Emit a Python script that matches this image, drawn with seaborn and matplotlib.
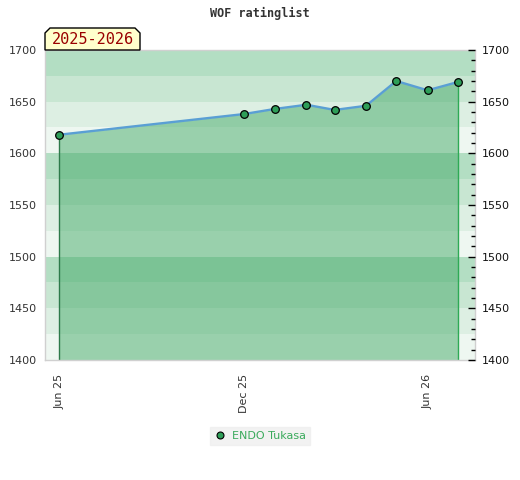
import matplotlib
matplotlib.use("Agg")
import matplotlib.pyplot as plt
import matplotlib.dates as mdates
from matplotlib.patches import Polygon
from matplotlib.lines import Line2D
import seaborn as sns
import pandas as pd
import numpy as np

# ---- data ----
dates = ["2025-06-01", "2025-12-01", "2026-01-01", "2026-02-01", "2026-03-01",
         "2026-04-01", "2026-05-01", "2026-06-01", "2026-07-01"]
ratings = [1618, 1638, 1643, 1647, 1642, 1646, 1670, 1661, 1669]
player = "ENDO Tukasa"
title = "WOF ratinglist"
season_label = "2025-2026"
tick_dates = ["2025-06-01", "2025-12-01", "2026-06-01"]
y_ticks = [1400, 1450, 1500, 1550, 1600, 1650, 1700]

df = pd.DataFrame({"date": pd.to_datetime(dates), "rating": ratings, "player": player})

sns.set_style("white")
plt.rcParams["font.family"] = ["DejaVu Sans"]

fig = plt.figure(figsize=(5.2, 4.8), dpi=100)
ax = fig.add_axes([45/520, 1-360/480, 430/520, 310/480])

ymin, ymax = 1400, 1700
xmin, xmax = pd.Timestamp("2025-05-18"), pd.Timestamp("2026-07-18")

# background bands (25 rating units each)
band_cols = ["#b3dec3", "#c8e6d2", "#ddefe3", "#eef7f1"]
for i, lo in enumerate(range(1700, 1400, -25)):
    ax.axhspan(lo - 25, lo, color=band_cols[i % 4], lw=0, zorder=0)

# area fill
ax.fill_between(df["date"], df["rating"], ymin, color="#45aa69", alpha=0.5, lw=0, zorder=1)
ax.vlines(df["date"].iloc[0], ymin, df["rating"].iloc[0], color="#2d7a4a", lw=1, zorder=2)
ax.vlines(df["date"].iloc[-1], ymin, df["rating"].iloc[-1], color="#2eaa55", lw=1, zorder=2)

sns.lineplot(data=df, x="date", y="rating", ax=ax, color="#5a9fd4", lw=1.7,
             marker="o", markersize=5.5, markerfacecolor="#2e9e58",
             markeredgecolor="black", markeredgewidth=0.9, zorder=3, legend=False)

ax.set_xlim(xmin, xmax)
ax.set_ylim(ymin, ymax)
ax.set_xlabel("")
ax.set_ylabel("")
ax.set_xticks(pd.to_datetime(tick_dates))
ax.xaxis.set_major_formatter(mdates.DateFormatter("%b %y"))
ax.tick_params(axis="x", labelrotation=90, length=0, pad=10, labelsize=8, labelcolor="#333333")
ax.set_yticks(y_ticks)
ax.tick_params(axis="y", length=0, pad=6, labelsize=8, labelcolor="#333333")
for s in ax.spines.values():
    s.set_color("#d0d0d0")
    s.set_linewidth(1)

ax2 = ax.twinx()
ax2.set_ylim(ymin, ymax)
ax2.set_yticks(y_ticks)
ax2.set_yticks(np.arange(1400, 1701, 10), minor=True)
ax2.tick_params(axis="y", which="major", direction="in", length=5, width=1, color="black",
                pad=5, labelsize=8, labelcolor="#111111")
ax2.tick_params(axis="y", which="minor", direction="in", length=3, width=1, color="black")
for s in ax2.spines.values():
    s.set_visible(False)

fig.text(0.5, 1-13/480, title, ha="center", va="center", family="DejaVu Sans Mono",
         fontweight="bold", fontsize=8.5, color="#333333")

# season label box with chamfered top corners
x0, x1 = 45/520, 140/520
y0, y1 = 1-50/480, 1-28/480
c = 5/520
cy = 5/480
poly = Polygon([(x0, y0), (x0, y1 - cy), (x0 + c, y1), (x1 - c, y1), (x1, y1 - cy), (x1, y0)],
               closed=True, transform=fig.transFigure, facecolor="#ffffcc",
               edgecolor="black", lw=1, zorder=5)
fig.patches.append(poly)
fig.text((x0 + x1)/2, (y0 + y1)/2 - 1/480, season_label, ha="center", va="center",
         family="DejaVu Sans Mono", fontsize=11, color="#990000", zorder=6)

# legend
h = Line2D([], [], ls="none", marker="o", markersize=5, markerfacecolor="#2e9e58",
           markeredgecolor="black", markeredgewidth=0.8)
leg = fig.legend([h], [player], loc="center", bbox_to_anchor=(260/520, 1-436/480),
                 frameon=True, fancybox=False, fontsize=8, handlelength=1,
                 handletextpad=0.6, borderpad=0.4)
leg.get_frame().set_facecolor("#efefef")
leg.get_frame().set_edgecolor("#efefef")
for t in leg.get_texts():
    t.set_color("#3aaa5c")

fig.savefig("out.png", dpi=100)
